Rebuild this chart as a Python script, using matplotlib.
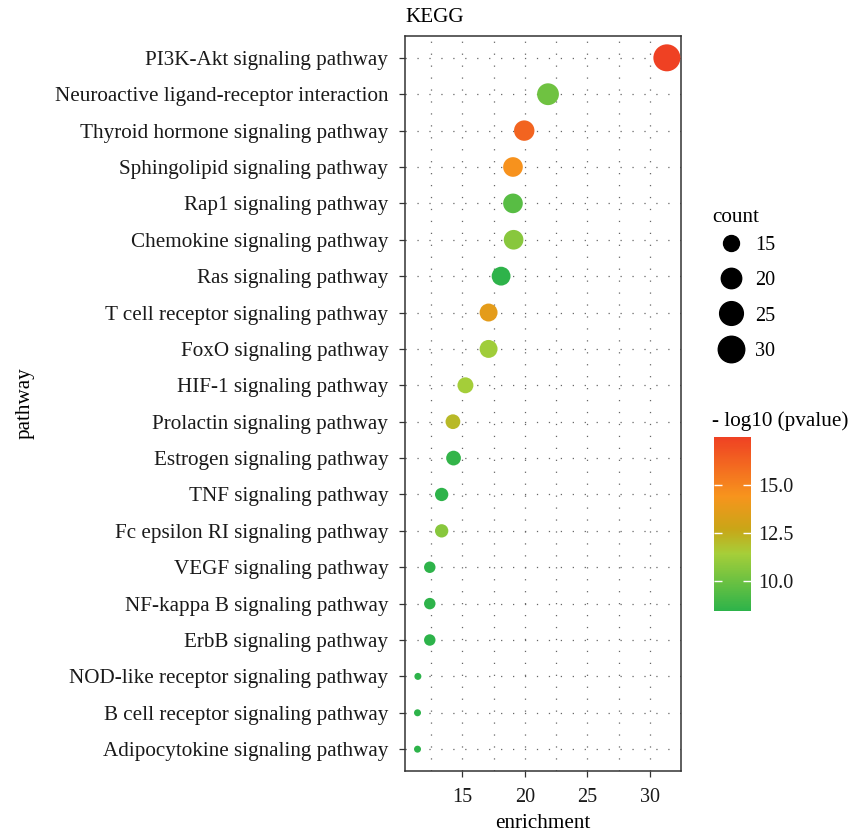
import numpy as np
import matplotlib
matplotlib.use("Agg")
import matplotlib.pyplot as plt
from matplotlib.colors import LinearSegmentedColormap, Normalize
from matplotlib.lines import Line2D
import matplotlib.cm as cm

plt.rcParams['font.family'] = ['Liberation Serif', 'DejaVu Serif']
plt.rcParams['lines.scale_dashes'] = False

pathways = [
    "PI3K-Akt signaling pathway",
    "Neuroactive ligand-receptor interaction",
    "Thyroid hormone signaling pathway",
    "Sphingolipid signaling pathway",
    "Rap1 signaling pathway",
    "Chemokine signaling pathway",
    "Ras signaling pathway",
    "T cell receptor signaling pathway",
    "FoxO signaling pathway",
    "HIF-1 signaling pathway",
    "Prolactin signaling pathway",
    "Estrogen signaling pathway",
    "TNF signaling pathway",
    "Fc epsilon RI signaling pathway",
    "VEGF signaling pathway",
    "NF-kappa B signaling pathway",
    "ErbB signaling pathway",
    "NOD-like receptor signaling pathway",
    "B cell receptor signaling pathway",
    "Adipocytokine signaling pathway",
]
enrichment = [31.35, 21.85, 19.95, 19.05, 19.05, 19.1, 18.1, 17.1, 17.1, 15.25,
              14.25, 14.3, 13.35, 13.35, 12.4, 12.4, 12.4, 11.45, 11.42, 11.42]
count = [31, 22, 20, 19, 19, 19, 18, 17, 17, 15,
         14, 14, 13, 13, 12, 12, 12, 11, 11, 11]
neglog10p = [17.53, 10.1, 16.2, 14.5, 9.5, 10.7, 8.5, 13.7, 11.3, 11.4,
             12.1, 8.6, 8.5, 10.7, 8.5, 8.5, 8.45, 8.45, 8.43, 8.45]
xticks = [15, 20, 25, 30]
size_breaks = [15, 20, 25, 30]
cbar_ticks = [10.0, 12.5, 15.0]

W, H, DPI = 848, 834, 100
fig = plt.figure(figsize=(W / DPI, H / DPI), dpi=DPI)
WORD_FS = 15.2
NUM_FS = 14.5

def fx(px):
    return px / W

def fy(py):
    return 1 - py / H

ax = fig.add_axes([fx(405), fy(771), fx(681) - fx(405), fy(36) - fy(771)])

cmap = LinearSegmentedColormap.from_list(
    "pv", [(0.0, "#2db34a"), (0.33, "#a6ce39"), (0.47, "#c9a617"),
           (0.66, "#f7941d"), (1.0, "#ef4123")])
norm = Normalize(vmin=min(neglog10p), vmax=max(neglog10p))

cmin, cmax = min(count), max(count)
DMIN, DMAX = 7.0, 27.0

def size_pt2(c):
    d = DMIN + (DMAX - DMIN) * np.sqrt((np.asarray(c, float) - cmin) / (cmax - cmin))
    return (d * 72 / DPI) ** 2

n = len(pathways)
ypos = np.arange(n)[::-1] + 1

# grid
ax.set_xlim(10.42, 32.48)
ax.set_ylim(0.4, n + 0.6)
grid_kw = dict(color="#666666", lw=0.9, dashes=(0.9, 7.7), zorder=0)
for xv in np.arange(12.5, 32.5, 2.5):
    ax.axvline(xv, **grid_kw)
for yv in ypos:
    ax.axhline(yv, **grid_kw)

ax.scatter(enrichment, ypos, s=size_pt2(count), c=neglog10p, cmap=cmap, norm=norm,
           edgecolors="none", zorder=3)

ax.set_yticks(ypos)
ax.set_yticklabels(pathways, fontsize=WORD_FS, color="#1a1a1a")
ax.set_xticks(xticks)
ax.set_xticklabels([str(t) for t in xticks], fontsize=NUM_FS, color="#1a1a1a")
ax.tick_params(axis="both", length=4, width=0.9, color="#333333", pad=8)
ax.tick_params(axis="y", pad=8)
for sp in ax.spines.values():
    sp.set_linewidth(1.1)
    sp.set_color("#333333")

ax.set_xlabel("enrichment", fontsize=WORD_FS, labelpad=5)
fig.text(fx(25), fy(403), "pathway", rotation=90, fontsize=WORD_FS, ha="center", va="center")
fig.text(fx(405), fy(17), "KEGG", fontsize=WORD_FS, ha="left", va="center")

# size legend
fig.text(fx(712), fy(218), "count", fontsize=WORD_FS, ha="left", va="center")
handles = [Line2D([], [], marker="o", ls="", color="black",
                  markersize=np.sqrt(size_pt2(b))) for b in size_breaks]
leg = fig.legend(handles, [str(b) for b in size_breaks],
                 loc="upper left", bbox_to_anchor=(fx(711), fy(236)),
                 frameon=False, fontsize=NUM_FS,
                 labelspacing=0.8, handletextpad=0.2, handlelength=2.0,
                 borderaxespad=0, borderpad=0)

# colorbar
cax = fig.add_axes([fx(714), fy(611), fx(751) - fx(714), fy(437) - fy(611)])
sm = cm.ScalarMappable(norm=norm, cmap=cmap)
cb = fig.colorbar(sm, cax=cax, ticks=cbar_ticks)
cb.outline.set_visible(False)
cb.ax.set_yticklabels(["%.1f" % t for t in cbar_ticks], fontsize=NUM_FS, color="#1a1a1a")
cb.ax.tick_params(axis="y", direction="in", color="white", length=6, width=1,
                  left=True, right=True, pad=5)
fig.text(fx(712), fy(421), "- log10 (pvalue)", fontsize=WORD_FS, ha="left", va="center")

fig.savefig("out.png", dpi=DPI)
